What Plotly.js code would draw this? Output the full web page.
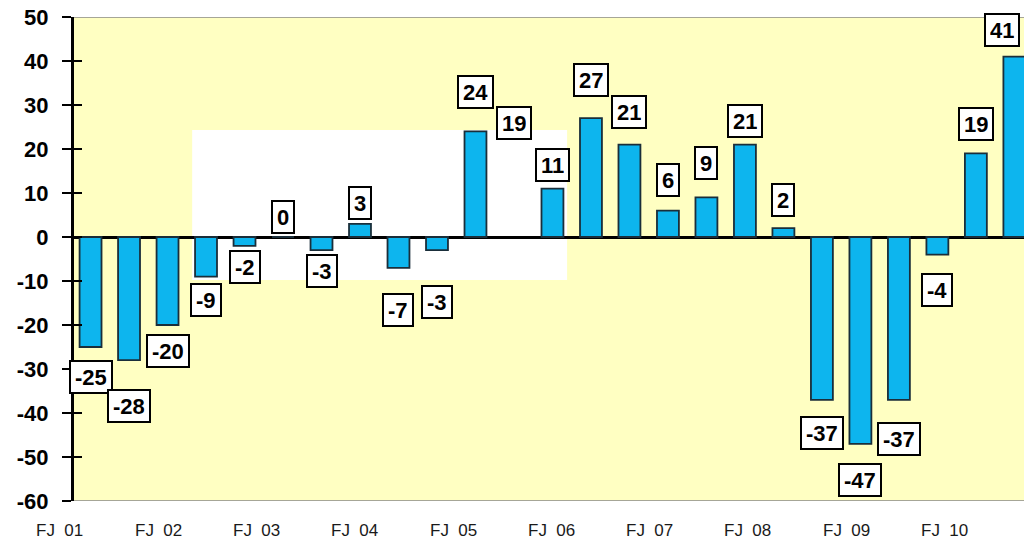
<!DOCTYPE html>
<html>
<head>
<meta charset="utf-8">
<script src="https://cdn.plot.ly/plotly-3.0.1.min.js"></script>
<style>html,body{margin:0;padding:0;background:#fff;}#chart{width:1024px;height:544px;}</style>
</head>
<body>
<div id="chart"></div>
<script>
// ---- data ----
const values = [-25, -28, -20, -9, -2, 0, -3, 3, -7, -3, 24, 19, 11, 27, 21, 6, 9, 21, 2, -37, -47, -37, -4, 19, 41];
const labelsText = ['-25','-28','-20','-9','-2','0','-3','3','-7','-3','24','19','11','27','21','6','9','21','2','-37','-47','-37','-4','19','41'];
const yearLabels = ['FJ  01','FJ  02','FJ  03','FJ  04','FJ  05','FJ  06','FJ  07','FJ  08','FJ  09','FJ  10'];
const yTicks = [50, 40, 30, 20, 10, 0, -10, -20, -30, -40, -50, -60];

// ---- layout / styling ----
const idx = values.map((v, i) => i);
const labelShift = [-30,-46,-26,-23,-21,20,-21,21,-42,-52,39,30,24,38,33,31,34,24,28,-33,-36,-39,-35,29,27];
const barColors = values.map((v, i) => i === 11 ? 'rgba(0,0,0,0)' : '#0DB5EE');
const lineWidths = values.map((v, i) => i === 11 ? 0 : 1.8);
const xRange = [-0.43, 24.25];
const yearStart = -0.794, yearStep = 2.553;   // year label spacing in bar units
const toPaper = x => (x - xRange[0]) / (xRange[1] - xRange[0]);
const FONT = 'Liberation Sans, Arial, sans-serif';

const bars = {
  type: 'bar', x: idx, y: values, width: 0.57,
  marker: { color: barColors, line: { color: '#1a2e3a', width: lineWidths } },
  hoverinfo: 'y', cliponaxis: true
};
const dummy = {
  type: 'scatter', mode: 'markers', x: [null], y: [null],
  xaxis: 'x', yaxis: 'y2', hoverinfo: 'skip', showlegend: false
};

const valueAnn = values.map((v, i) => ({
  x: i, y: v, xref: 'x', yref: 'y', text: labelsText[i], showarrow: false,
  yanchor: 'middle', xanchor: 'center', yshift: labelShift[i],
  xshift: i === values.length - 1 ? -12 : 0,
  font: { family: FONT, size: 22, color: '#000', weight: 'bold' },
  bgcolor: '#fff', bordercolor: '#000', borderwidth: 2, borderpad: 4, height: 22
}));
const yearAnn = yearLabels.map((t, k) => ({
  x: toPaper(yearStart + k * yearStep), y: 0, xref: 'paper', yref: 'paper',
  text: t.replace(/ /g, '\u00A0'), showarrow: false, yanchor: 'middle', xanchor: 'center',
  yshift: -29, font: { family: FONT, size: 17, color: '#1a1a1a' }
}));

const layout = {
  width: 1024, height: 544,
  margin: { l: 74, r: 0, t: 17, b: 43 },
  paper_bgcolor: '#ffffff', plot_bgcolor: '#FFFFC2',
  showlegend: false,
  bargap: 0,
  xaxis: {
    range: xRange, showticklabels: false, showgrid: false, zeroline: false,
    showline: false, ticks: '', fixedrange: true
  },
  yaxis: {
    range: [-60, 50], tickmode: 'array', tickvals: yTicks, ticktext: yTicks.map(String),
    showgrid: false, zeroline: true, zerolinecolor: '#000', zerolinewidth: 3,
    showline: true, linecolor: '#000', linewidth: 3,
    ticks: 'outside', ticklen: 9, tickwidth: 2.5, tickcolor: '#000', ticklabelstandoff: 9,
    tickfont: { family: FONT, size: 22, color: '#000', weight: 'bold' }
  },
  yaxis2: {
    overlaying: 'y', anchor: 'x', range: [-60, 50], tickmode: 'array', tickvals: yTicks,
    showticklabels: false, showgrid: false, zeroline: false, showline: false,
    ticks: 'inside', ticklen: 8, tickwidth: 2.5, tickcolor: '#000'
  },
  shapes: [
    { type: 'rect', xref: 'x', yref: 'y', x0: 2.64, x1: 12.38, y0: -9.8, y1: 24.3,
      fillcolor: '#ffffff', line: { width: 0 }, layer: 'below' },
    { type: 'line', xref: 'paper', yref: 'y', x0: 0, x1: 1, y0: 50, y1: 50,
      line: { color: '#888', width: 1.5 } },
    { type: 'line', xref: 'paper', yref: 'y', x0: 0, x1: 1, y0: -60, y1: -60,
      line: { color: '#888', width: 1.5 } }
  ],
  annotations: valueAnn.concat(yearAnn)
};

Plotly.newPlot('chart', [bars, dummy], layout, { displayModeBar: false, staticPlot: true });
</script>
</body>
</html>
